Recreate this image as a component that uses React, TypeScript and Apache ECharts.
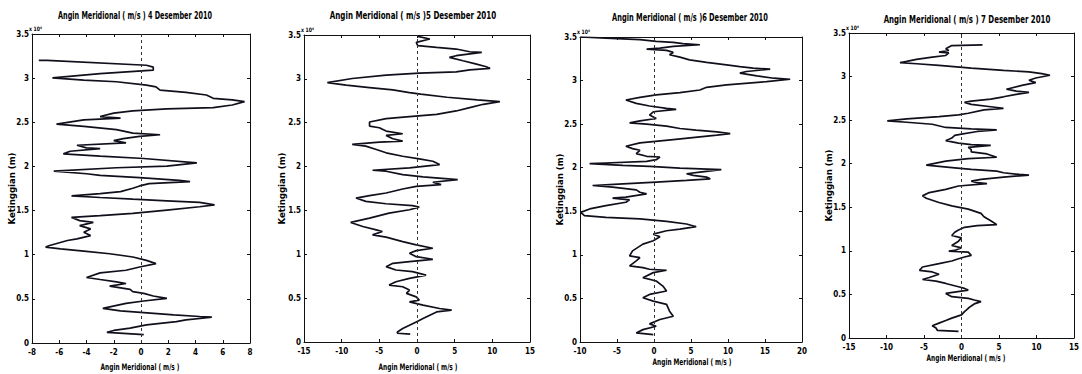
import React, { useEffect, useRef } from 'react';
import * as echarts from 'echarts';

// [wind (m/s), altitude (m)] — bottom to top
const day4: number[][] = [
  [0.2, 940], [-2.5, 1200], [-2.0, 1420], [-0.8, 1690], [0.4, 2060], [2.6, 2430], [3.3, 2620], [5.2, 2920], [4.3, 3000], [2.4, 3180],
  [0.2, 3450], [-1.5, 3630], [-2.8, 3930], [-1.1, 4490], [0.2, 4760], [1.9, 5060], [0.9, 5320], [0.2, 5620], [-0.6, 5810], [-0.8, 6070],
  [-2.3, 6440], [-1.1, 6740], [-1.8, 6930], [-3.0, 7190], [-4.0, 7420], [-3.0, 7940], [-1.1, 8240], [-0.1, 8610], [1.1, 8990], [0.4, 9360],
  [-0.6, 9740], [-2.3, 10110], [-4.2, 10410], [-5.9, 10670], [-7.0, 10860], [-6.7, 11050], [-5.4, 11610], [-4.7, 11800], [-3.7, 12170], [-4.2, 12550],
  [-3.7, 12920], [-4.5, 13300], [-3.5, 13670], [-4.5, 13860], [-5.1, 14230], [-3.0, 14420], [-0.6, 14680], [1.9, 15060], [4.3, 15430], [5.4, 15650],
  [4.3, 15920], [1.9, 16100], [-0.6, 16290], [-3.0, 16480], [-5.1, 16670], [-3.0, 16930], [-1.5, 17150], [-0.6, 17530], [-0.1, 17790], [0.6, 18050],
  [3.6, 18280], [2.8, 18430], [-0.1, 18730], [-3.0, 18990], [-4.0, 19170], [-6.4, 19470], [-1.8, 19850], [1.9, 20040], [4.1, 20410], [0.2, 20900],
  [-3.0, 21160], [-5.7, 21420], [-5.2, 21720], [-3.0, 22020], [-4.0, 22100], [-4.7, 22400], [-1.1, 22660], [-2.0, 22920], [-1.3, 23140], [-0.1, 23410],
  [1.4, 23590], [-0.6, 23780], [-1.8, 24160], [-4.2, 24530], [-6.2, 24790], [-4.2, 25280], [-1.5, 25470], [-3.0, 25650], [-2.0, 26030], [-0.6, 26290],
  [1.9, 26520], [5.3, 26660], [6.7, 26960], [7.6, 27340], [6.7, 27530], [5.3, 27710], [4.8, 28090], [3.3, 28390], [1.4, 28650], [1.1, 29020],
  [0.4, 29210], [-1.8, 29590], [-4.2, 29770], [-6.5, 30040], [-3.0, 30520], [0.9, 30900], [0.9, 31250], [0.4, 31460], [-6.9, 32020], [-7.5, 32020],
];

const day5: number[][] = [
  [-0.9, 900], [-2.6, 1000], [-2.6, 1150], [-1.9, 1530], [-1.0, 1910], [-0.1, 2290], [0.8, 2670], [1.7, 3050], [2.6, 3430], [4.6, 3630],
  [3.0, 3820], [0.8, 4200], [-1.0, 4580], [0.3, 4770], [-0.1, 5150], [-1.4, 5540], [-1.0, 5920], [-1.9, 6300], [-3.7, 6490], [-2.8, 6870],
  [-1.0, 7250], [1.2, 7630], [-0.6, 8020], [-2.8, 8210], [-4.1, 8590], [-3.2, 8970], [-1.0, 9160], [2.1, 9430], [-0.1, 9730], [-1.0, 10120],
  [-0.1, 10420], [2.1, 10690], [-0.1, 11070], [-1.9, 11450], [-4.1, 11950], [-5.9, 12210], [-4.6, 12600], [-5.4, 12790], [-7.2, 13170], [-8.8, 13630],
  [-6.3, 14120], [-3.7, 14700], [-1.0, 15080], [0.3, 15380], [-0.6, 15540], [-4.1, 15760], [-6.8, 16030], [-8.1, 16410], [-6.3, 16680], [-4.1, 16990],
  [-1.9, 17440], [-0.1, 17750], [3.2, 17940], [2.1, 18210], [5.4, 18510], [0.8, 18820], [-1.9, 19090], [-4.1, 19470], [-5.9, 19580], [-1.0, 19850],
  [3.0, 20230], [2.1, 20610], [0.3, 20880], [-1.9, 21180], [-4.1, 21570], [-5.4, 21950], [-6.8, 22330], [-8.6, 22520], [-5.0, 22790], [-1.9, 22900],
  [-3.2, 23170], [-4.1, 23550], [-1.9, 23740], [-4.1, 24050], [-5.0, 24430], [-6.3, 24620], [-6.3, 25080], [-4.1, 25460], [-1.0, 25690], [2.6, 25960],
  [5.2, 26340], [7.0, 26720], [8.8, 27100], [11.0, 27410], [8.0, 27600], [4.0, 27900], [0.5, 28250], [-1.0, 28440], [-3.2, 28740], [-6.3, 29010],
  [-9.4, 29280], [-11.9, 29580], [-8.6, 30040], [-4.1, 30420], [0.3, 30650], [5.2, 30800], [7.0, 31030], [9.7, 31190], [9.2, 31380], [7.9, 31680],
  [6.1, 32060], [4.3, 32450], [5.2, 32640], [8.6, 33020], [7.0, 33090], [5.2, 33400], [2.6, 33590], [0.1, 33780], [-0.1, 34160], [1.7, 34540], [0.1, 34850],
];

const day6: number[][] = [
  [-0.1, 850], [-2.4, 1040], [-1.5, 1420], [0.3, 1810], [-0.6, 2080], [0.8, 2580], [2.6, 2960], [2.1, 3540], [1.7, 4310], [-0.1, 4690],
  [-1.5, 5080], [-0.6, 5460], [1.7, 5850], [1.2, 6420], [0.3, 7000], [-1.5, 7380], [-0.1, 7960], [1.7, 8230], [-0.6, 8350], [-1.5, 8540],
  [-3.3, 8730], [-2.4, 9310], [-1.9, 9690], [-3.3, 9880], [-2.9, 10460], [-1.5, 11230], [-0.1, 11620], [0.8, 12080], [-0.1, 12380], [1.7, 12770],
  [3.5, 12960], [5.7, 13230], [4.4, 13540], [1.7, 13850], [-1.9, 14120], [-6.5, 14310], [-9.4, 14500], [-9.9, 14880], [-8.7, 15270], [-6.5, 15650],
  [-3.8, 16040], [-3.3, 16310], [-5.6, 16500], [-3.8, 16620], [-1.0, 17000], [-1.9, 17190], [-2.4, 17460], [-5.6, 17770], [-8.3, 17960], [-4.2, 18150],
  [0.3, 18350], [4.4, 18540], [7.6, 18730], [7.1, 18920], [5.3, 19120], [4.4, 19310], [6.2, 19500], [9.1, 19770], [3.5, 19960], [-0.6, 20150],
  [-4.2, 20270], [-8.7, 20460], [-6.5, 20540], [-1.0, 20730], [0.3, 20920], [0.8, 21230], [-1.0, 21310], [-2.4, 21620], [-1.9, 22000], [-2.9, 22190],
  [-3.8, 22460], [-1.9, 22850], [2.6, 23230], [6.2, 23540], [8.5, 23730], [10.3, 23920], [8.5, 24120], [5.7, 24310], [3.5, 24500], [1.7, 24770],
  [-1.0, 25000], [-3.3, 25150], [-1.9, 25380], [0.3, 25650], [-0.6, 26040], [-0.1, 26420], [3.0, 26690], [1.7, 26810], [-0.6, 27080], [-2.4, 27380],
  [-3.8, 27770], [-1.9, 28080], [0.3, 28350], [3.5, 28610], [6.2, 28920], [7.1, 29230], [9.8, 29500], [15.2, 29880], [18.4, 30150], [16.2, 30270],
  [13.9, 30540], [11.6, 30850], [12.5, 31040], [15.7, 31310], [13.4, 31420], [11.6, 31610], [9.8, 31810], [7.1, 32080], [4.8, 32380], [3.5, 32690],
  [2.1, 32960], [2.6, 33230], [1.7, 33460], [-1.0, 33610], [0.8, 33730], [2.6, 33920], [6.2, 34110], [3.9, 34230], [2.6, 34380], [0.3, 34500],
  [-1.9, 34690], [-6.5, 34880], [-9.9, 35000],
];

const day7: number[][] = [
  [-0.4, 760], [-3.2, 870], [-3.4, 1140], [-3.9, 1400], [-3.0, 1710], [-2.1, 2010], [-1.3, 2280], [0.0, 2650], [0.4, 3030], [0.9, 3410],
  [1.3, 3680], [1.7, 3910], [2.6, 4170], [1.7, 4360], [0.9, 4550], [-1.3, 4740], [-2.1, 5120], [0.9, 5500], [0.4, 5690], [-0.4, 5880],
  [-2.1, 6260], [-3.4, 6520], [-5.2, 6710], [-4.3, 6940], [-3.0, 7320], [-3.9, 7580], [-5.6, 7770], [-5.2, 8150], [-3.0, 8530], [-1.3, 8840],
  [-0.4, 9100], [0.4, 9290], [1.3, 9480], [0.9, 9860], [-1.7, 9970], [-0.9, 10050], [0.0, 10350], [-1.3, 10620], [-0.4, 11110], [0.0, 11490],
  [-1.3, 11760], [-0.9, 12130], [-0.4, 12400], [0.4, 12700], [2.1, 12890], [4.7, 13010], [3.9, 13460], [3.0, 13920], [2.6, 14300], [0.9, 14790],
  [-1.3, 15170], [-3.0, 15550], [-3.9, 15810], [-4.7, 16040], [-5.2, 16310], [-4.3, 16690], [-2.1, 17060], [-0.4, 17440], [3.4, 17710], [2.1, 17820],
  [1.3, 18010], [2.6, 18200], [5.6, 18470], [9.0, 18700], [7.7, 18770], [5.6, 18960], [4.7, 19150], [1.3, 19340], [-0.9, 19530], [-4.7, 19830],
  [-3.9, 19980], [-2.1, 20290], [0.9, 20590], [4.7, 20740], [3.4, 21120], [1.3, 21350], [1.3, 21610], [0.9, 21880], [3.9, 22110], [1.3, 22180],
  [-0.4, 22370], [-2.1, 22640], [-1.3, 22940], [-0.9, 23250], [0.0, 23400], [2.1, 23700], [4.7, 23890], [1.3, 24000], [-2.1, 24160], [-3.9, 24530],
  [-7.3, 24760], [-9.9, 24910], [-7.3, 25140], [-3.0, 25410], [-0.4, 25600], [0.9, 25790], [3.0, 26170], [5.6, 26350], [3.9, 26540], [1.3, 26810],
  [0.4, 27040], [1.3, 27190], [3.9, 27420], [5.6, 27680], [7.3, 27950], [9.0, 28180], [7.3, 28330], [6.0, 28550], [8.2, 29010], [9.9, 29310],
  [9.0, 29580], [9.9, 29840], [11.8, 30150], [10.7, 30340], [9.0, 30530], [5.6, 30720], [1.3, 30980], [-3.0, 31280], [-6.0, 31470], [-8.2, 31590],
  [-7.3, 31740], [-6.0, 31970], [-3.9, 32230], [-2.1, 32420], [-1.7, 32730], [-3.0, 32800], [-1.7, 32990], [-2.1, 33180], [-1.3, 33560], [2.8, 33640],
];

const titles = [
  'Angin Meridional ( m/s ) 4 Desember 2010',
  'Angin Meridional ( m/s )5 Desember 2010',
  'Angin Meridional ( m/s )6 Desember 2010',
  'Angin Meridional ( m/s ) 7 Desember 2010',
];
const xMins = [-8, -15, -10, -15];
const xMaxs = [8, 15, 20, 15];
const xSteps = [2, 5, 5, 5];
const yMin = 0;
const yMax = 35000;
const yStep = 5000;
const xName = 'Angin Meridional ( m/s )';
const yName = 'Ketinggian (m)';
const yExponent = 'x 10⁴';

const layout = [
  { left: 32, top: 34, width: 218, height: 309, titleX: 135, titleY: 16, titleSX: 0.72, yGap: 16, xNameX: 140, xNameY: 367 },
  { left: 304, top: 35, width: 226, height: 307, titleX: 413, titleY: 16, titleSX: 0.79, yGap: 18, xNameX: 418, xNameY: 367 },
  { left: 580, top: 37, width: 222, height: 305, titleX: 690, titleY: 18, titleSX: 0.74, yGap: 16, xNameX: 692, xNameY: 362 },
  { left: 849, top: 33, width: 231, height: 305, titleX: 967, titleY: 20, titleSX: 0.78, yGap: 16, xNameX: 966, xNameY: 358 },
];

const FONT = "'Liberation Sans Narrow', 'DejaVu Sans Condensed', 'Arial Narrow', sans-serif";
const allData = [day4, day5, day6, day7];

export default function App() {
  const ref = useRef<HTMLDivElement>(null);
  useEffect(() => {
    if (!ref.current) return;
    const chart = echarts.init(ref.current, undefined, { renderer: 'svg' });
    const grids: any[] = [];
    const xAxes: any[] = [];
    const yAxes: any[] = [];
    const series: any[] = [];
    const graphics: any[] = [];
    const lineCol = '#111';
    layout.forEach((L, i) => {
      grids.push({ left: L.left, top: L.top, width: L.width, height: L.height, containLabel: false });
      const xCommon = {
        type: 'value', gridIndex: i, min: xMins[i], max: xMaxs[i], interval: xSteps[i],
        splitLine: { show: false },
        axisLine: { show: true, onZero: false, lineStyle: { color: lineCol, width: 1 } },
        axisTick: { show: true, inside: true, length: 3, lineStyle: { color: lineCol } },
      };
      xAxes.push({
        ...xCommon, position: 'bottom',
        axisLabel: { show: true, color: '#000', fontSize: 8, fontWeight: 'bold', fontFamily: FONT, margin: 5 },
      });
      xAxes.push({ ...xCommon, position: 'top', axisLabel: { show: false } });
      const yCommon = {
        type: 'value', gridIndex: i, min: yMin, max: yMax, interval: yStep,
        splitLine: { show: false },
        axisLine: { show: true, onZero: false, lineStyle: { color: lineCol, width: 1 } },
        axisTick: { show: true, inside: true, length: 3, lineStyle: { color: lineCol } },
      };
      yAxes.push({
        ...yCommon, position: 'left',
        axisLabel: {
          show: true, color: '#000', fontSize: 8, fontWeight: 'bold', fontFamily: FONT, margin: 3,
          formatter: (v: number) => String(v / 10000),
        },
        name: yName, nameLocation: 'middle', nameGap: L.yGap, nameRotate: 90, nameMoveOverlap: false,
        nameTextStyle: { color: '#000', fontSize: 9.5, fontWeight: 'bold', fontFamily: FONT },
      });
      yAxes.push({ ...yCommon, position: 'right', axisLabel: { show: false } });
      series.push({
        type: 'line', xAxisIndex: 2 * i, yAxisIndex: 2 * i, data: allData[i],
        showSymbol: false, symbol: 'none',
        lineStyle: { color: '#10101c', width: 1.7 },
        markLine: {
          silent: true, symbol: 'none', label: { show: false },
          lineStyle: { color: '#333', type: [3, 3], width: 1 },
          data: [{ xAxis: 0 }],
        },
      });
      graphics.push({
        type: 'text', x: L.titleX, y: L.titleY, scaleX: L.titleSX,
        style: { text: titles[i], fill: '#000', font: `bold 10px ${FONT}`, textAlign: 'center', textVerticalAlign: 'middle' },
      });
      graphics.push({
        type: 'text', x: L.xNameX, y: L.xNameY, scaleX: 0.72,
        style: { text: xName, fill: '#000', font: `bold 9px ${FONT}`, textAlign: 'center', textVerticalAlign: 'middle' },
      });
      graphics.push({
        type: 'text', x: L.left - 3, y: L.top - 2, scaleX: 0.85,
        style: { text: yExponent, fill: '#000', font: `bold 6px ${FONT}`, textAlign: 'left', textVerticalAlign: 'bottom' },
      });
    });
    chart.setOption({
      animation: false,
      backgroundColor: '#fff',
      grid: grids,
      xAxis: xAxes,
      yAxis: yAxes,
      series,
      graphic: graphics,
    });
    return () => chart.dispose();
  }, []);
  return <div ref={ref} style={{ position: 'fixed', left: 0, top: 0, width: 1082, height: 374, background: '#fff' }} />;
}
